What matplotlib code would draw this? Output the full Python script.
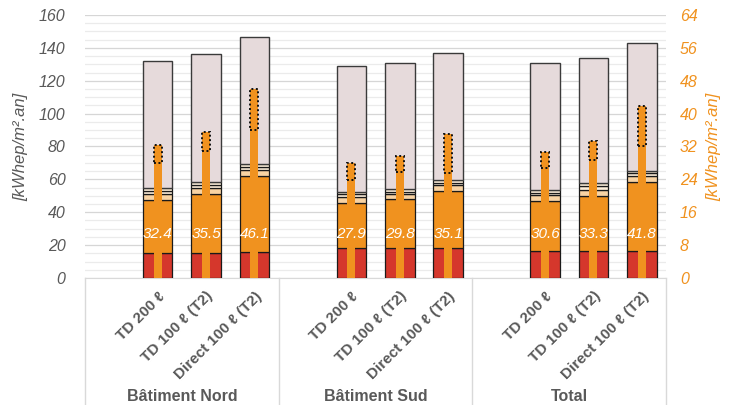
import matplotlib
matplotlib.use("Agg")
import matplotlib.pyplot as plt
from matplotlib.ticker import MultipleLocator

plt.rcParams["font.family"] = ["Liberation Sans", "DejaVu Sans"]

# ---------------------------------------------------------------- data
groups = ["Bâtiment Nord", "Bâtiment Sud", "Total"]
variants = ["TD 200 ℓ", "TD 100 ℓ (T2)", "Direct 100 ℓ (T2)"]

# wide stacked bars (left axis, kWhep/m².an), one value per bar
red_part = [15.2, 15.5, 16.0, 18.0, 18.0, 18.0, 16.4, 16.5, 16.5]
orange_part = [32.4, 35.5, 46.1, 27.9, 29.8, 35.1, 30.6, 33.3, 41.8]
peach_part = [3.5, 3.6, 3.5, 3.3, 3.2, 3.3, 3.3, 3.9, 3.5]
cream1_part = [1.8, 1.8, 1.8, 1.7, 1.6, 1.6, 1.6, 2.0, 1.8]
cream2_part = [1.7, 1.8, 1.7, 1.6, 1.5, 1.6, 1.6, 1.9, 1.7]
bar_totals = [132.2, 136.0, 146.4, 129.0, 131.0, 137.0, 131.0, 134.0, 143.0]

# narrow bars (right axis): solid part + dotted top part, total = label
narrow_total = [32.4, 35.5, 46.1, 27.9, 29.8, 35.1, 30.6, 33.3, 41.8]
narrow_solid = [28.0, 31.0, 36.0, 23.8, 25.9, 25.5, 26.8, 28.6, 32.0]

RED = "#D5372C"
ORANGE = "#F0921F"
PEACH = "#F8D3A3"
CREAM = "#FDEEDA"
TOP = "#E6DADB"
GREY = "#595959"

# slot 0 of each group is left empty, bars sit in slots 1..3
xs = [g * 4 + k + 1 for g in range(len(groups)) for k in range(len(variants))]

fig = plt.figure(figsize=(7.36, 4.05), dpi=100)
ax = fig.add_axes([0.1155, 0.3136, 0.7895, 0.6494])
ax2 = ax.twinx()

W = 0.61
ec = "#1A1A1A"
lw = 0.9
bottom = [0.0] * len(xs)
for vals, col in [(red_part, RED), (orange_part, ORANGE), (peach_part, PEACH),
                  (cream1_part, CREAM), (cream2_part, CREAM)]:
    ax.bar(xs, vals, W, bottom=bottom, color=col, edgecolor=ec, linewidth=lw, zorder=3)
    bottom = [b + v for b, v in zip(bottom, vals)]
rest = [t - b for t, b in zip(bar_totals, bottom)]
ax.bar(xs, rest, W, bottom=bottom, color=TOP, edgecolor="#3A3A3A", linewidth=1.0, zorder=3)

NW = 0.165
ax2.bar(xs, narrow_solid, NW, color=ORANGE, linewidth=0, zorder=3)
dotted = [t - s for t, s in zip(narrow_total, narrow_solid)]
ax2.bar(xs, dotted, NW, bottom=narrow_solid, color=ORANGE, edgecolor="#111111",
        linewidth=1.4, linestyle=(0, (1, 1.3)), zorder=3)

for x, v in zip(xs, narrow_total):
    ax2.text(x, 10.6, f"{v:.1f}", color="white", style="italic", fontsize=11,
             ha="center", va="center", zorder=5)

# axes styling
ax.set_xlim(-0.5, 11.5)
ax.set_ylim(0, 160)
ax2.set_ylim(0, 64)
ax.yaxis.set_major_locator(MultipleLocator(20))
ax.yaxis.set_minor_locator(MultipleLocator(5))
ax2.yaxis.set_major_locator(MultipleLocator(8))
ax.grid(True, which="major", axis="y", color="#D6D6D6", linewidth=0.9, zorder=0)
ax.grid(True, which="minor", axis="y", color="#EBEBEB", linewidth=0.9, zorder=0)
ax.set_axisbelow(True)

for a in (ax, ax2):
    for s in ("left", "right", "top"):
        a.spines[s].set_visible(False)
    a.spines["bottom"].set_color("#D9D9D9")
ax2.spines["bottom"].set_visible(False)

ax.tick_params(axis="y", which="both", length=0, pad=14, labelsize=11.5, labelcolor=GREY)
for t in ax.get_yticklabels():
    t.set_style("italic")
ax2.tick_params(axis="y", length=0, pad=10, labelsize=11.5, labelcolor=ORANGE)
for t in ax2.get_yticklabels():
    t.set_style("italic")

ax.set_ylabel("[kWhep/m².an]", fontsize=12, color=GREY, style="italic", labelpad=8)
ax2.set_ylabel("[kWhep/m².an]", fontsize=12, color=ORANGE, style="italic",
               rotation=90, labelpad=6)

ax.set_xticks(xs)
ax.set_xticklabels(variants * len(groups), rotation=45, ha="right",
                   rotation_mode="anchor", fontsize=11, fontweight="bold", color=GREY)
ax.tick_params(axis="x", length=0, pad=8)

# group separators and labels below the axis
for g in range(len(groups) + 1):
    ax.plot([g * 4 - 0.5] * 2, [0, -0.62], transform=ax.get_xaxis_transform(),
            color="#D9D9D9", linewidth=1.0, clip_on=False)
for g, name in enumerate(groups):
    ax.text(g * 4 + 1.5, -0.45, name, transform=ax.get_xaxis_transform(),
            ha="center", va="center", fontsize=11.5, fontweight="bold", color=GREY)

fig.savefig("out.png", dpi=100)
